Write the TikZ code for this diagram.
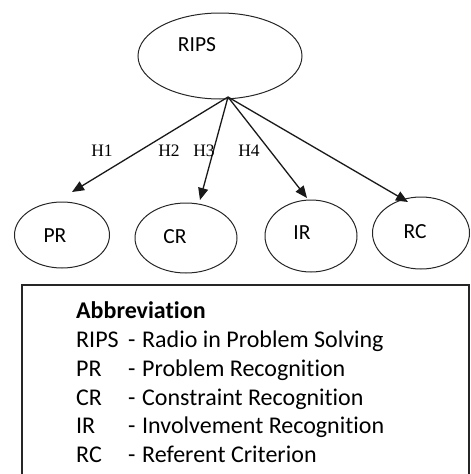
\documentclass[tikz,border=0pt]{standalone}
\usepackage{fontspec}
\setmainfont{Carlito}[Ligatures=NoCommon]
\newfontfamily\hfont{Liberation Serif}
\usetikzlibrary{arrows.meta,shapes.geometric}
\tikzset{
  ell/.style={draw=black!85, line width=1pt, ellipse, inner sep=0pt},
  ntext/.style={anchor=base, inner sep=0pt, font=\fontsize{21.5}{24}\selectfont},
  htext/.style={anchor=base, inner sep=0pt, font=\hfont\fontsize{17.5}{19}\selectfont},
  arr/.style={draw=black!90, line width=1.3pt, -{Triangle[length=12pt,width=10pt]}},
  btext/.style={anchor=base west, inner sep=0pt, font=\fontsize{24}{26}\selectfont},
  legend/.style={draw=black!85, line width=1.2pt}
}
\begin{document}
\begin{tikzpicture}[x=1pt,y=-1pt]
\useasboundingbox (0,0) rectangle (471,474);
% ellipses
\node[ell, minimum width=164pt, minimum height=86pt] (rips) at (220,56) {};
\node[ntext] (ripst) at (197,51) {RIPS};
\node[ell, minimum width=95pt, minimum height=66pt] (pr) at (62,235) {};
\node[ntext] (prt) at (55,242) {PR};
\node[ell, minimum width=102pt, minimum height=70pt] (cr) at (186,238) {};
\node[ntext] (crt) at (175,243) {CR};
\node[ell, minimum width=92pt, minimum height=72pt] (ir) at (311,236) {};
\node[ntext] (irt) at (302,239) {IR};
\node[ell, minimum width=97pt, minimum height=72pt] (rc) at (421,233) {};
\node[ntext] (rct) at (415,238) {RC};
% arrows
\coordinate (src) at (228,97);
\coordinate (prtip) at (72,192);
\coordinate (crtip) at (200,200);
\coordinate (irtip) at (307,198);
\coordinate (rctip) at (408,202);
\draw[arr] (src) -- (prtip);
\draw[arr] (src) -- (crtip);
\draw[arr] (src) -- (irtip);
\draw[arr] (src) -- (rctip);
% hypothesis labels
\node[htext] (h1) at (102,156) {H1};
\node[htext] (h2) at (169,156) {H2};
\node[htext] (h3) at (204,156) {H3};
\node[htext] (h4) at (249,156) {H4};
% legend box
\draw[legend] (22,285) rectangle (469,490);
\node[btext, font=\bfseries\fontsize{24}{26}\selectfont] (abbr) at (76,318) {Abbreviation};
\node[btext] (a1) at (76,347) {RIPS};
\node[btext] (d1) at (128,347) {-};
\node[btext] (t1) at (142,347) {Radio in Problem Solving};
\node[btext] (a2) at (76,376) {PR};
\node[btext] (d2) at (128,376) {-};
\node[btext] (t2) at (142,376) {Problem Recognition};
\node[btext] (a3) at (76,405) {CR};
\node[btext] (d3) at (128,405) {-};
\node[btext] (t3) at (142,405) {Constraint Recognition};
\node[btext] (a4) at (76,433) {IR};
\node[btext] (d4) at (128,433) {-};
\node[btext] (t4) at (142,433) {Involvement Recognition};
\node[btext] (a5) at (76,462) {RC};
\node[btext] (d5) at (128,462) {-};
\node[btext] (t5) at (142,462) {Referent Criterion};
\end{tikzpicture}
\end{document}
